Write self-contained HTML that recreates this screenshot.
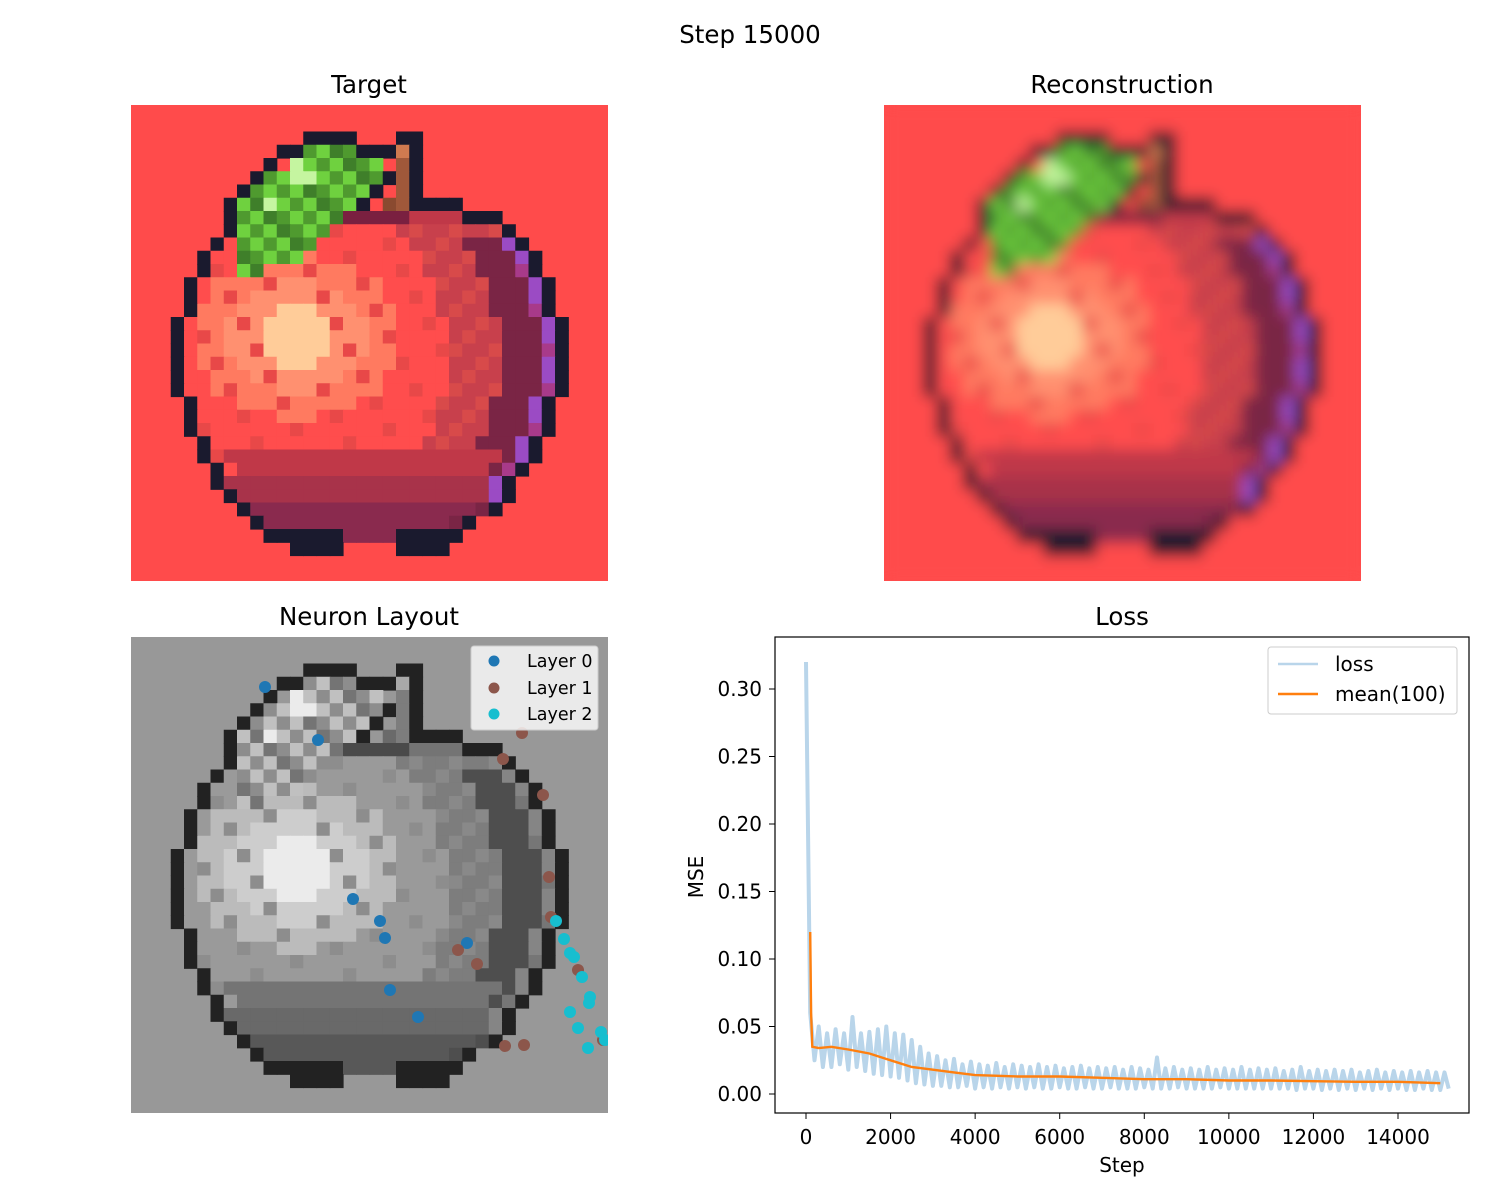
<!DOCTYPE html>
<html><head><meta charset="utf-8"><style>
html,body{margin:0;padding:0;background:#fff}
svg{display:block;font-family:"DejaVu Sans","Liberation Sans",sans-serif}
</style></head><body>
<svg id="root" width="1500" height="1200" viewBox="0 0 1500 1200" xmlns="http://www.w3.org/2000/svg">
<defs>
<filter id="blur" x="-10%" y="-10%" width="120%" height="120%"><feGaussianBlur stdDeviation="7"/></filter>
<clipPath id="clipT"><rect x="131" y="105" width="477" height="476"/></clipPath>
<clipPath id="clipR"><rect x="884" y="105" width="477" height="476"/></clipPath>
<clipPath id="clipN"><rect x="131" y="637" width="477" height="476"/></clipPath>
<clipPath id="clipL"><rect x="775" y="637" width="694" height="476"/></clipPath>
</defs>
<text x="750" y="43" font-size="24.5" text-anchor="middle">Step 15000</text>
<text x="369" y="93" font-size="24.5" text-anchor="middle">Target</text>
<text x="1122" y="93" font-size="24.5" text-anchor="middle">Reconstruction</text>
<text x="369" y="625" font-size="24.5" text-anchor="middle">Neuron Layout</text>
<text x="1122" y="625" font-size="24.5" text-anchor="middle">Loss</text>
<g id="target" clip-path="url(#clipT)"></g>
<g clip-path="url(#clipR)"><rect x="884" y="105" width="477" height="476" fill="#ff4b4b"/><g id="recon" filter="url(#blur)"></g></g>
<g id="neuron" clip-path="url(#clipN)"></g>
<g id="scatter" clip-path="url(#clipN)"></g>
<g>
<rect x="471" y="646" width="127" height="84" rx="3" fill="#fff" fill-opacity="0.8" stroke="#ccc"/>
<circle cx="494" cy="661" r="5.5" fill="#1f77b4"/><text x="527" y="667" font-size="17.5">Layer 0</text>
<circle cx="494" cy="688" r="5.5" fill="#8c564b"/><text x="527" y="694" font-size="17.5">Layer 1</text>
<circle cx="494" cy="714" r="5.5" fill="#17becf"/><text x="527" y="720" font-size="17.5">Layer 2</text>
</g>
<g id="loss"></g>
</svg>
<script>
// ---- chart data ----
const lossVals=[0.32,0.06,0.025,0.05,0.02,0.045,0.02,0.048,0.022,0.045,0.018,0.057,0.02,0.045,0.017,0.046,0.015,0.048,0.014,0.05,0.013,0.045,0.012,0.044,0.01,0.04,0.008,0.035,0.007,0.03,0.006,0.028,0.006,0.025,0.005,0.026,0.005,0.022,0.006,0.024,0.004,0.022,0.005,0.021,0.004,0.023,0.005,0.02,0.004,0.022,0.005,0.021,0.004,0.02,0.005,0.022,0.004,0.02,0.004,0.021,0.005,0.019,0.004,0.02,0.004,0.021,0.005,0.019,0.004,0.02,0.004,0.019,0.005,0.02,0.004,0.018,0.004,0.02,0.004,0.019,0.005,0.018,0.004,0.027,0.004,0.019,0.004,0.02,0.005,0.018,0.004,0.019,0.004,0.018,0.004,0.02,0.004,0.018,0.005,0.019,0.004,0.018,0.004,0.02,0.004,0.018,0.004,0.019,0.004,0.018,0.004,0.019,0.004,0.017,0.004,0.018,0.003,0.02,0.004,0.017,0.004,0.018,0.003,0.017,0.004,0.018,0.003,0.017,0.004,0.018,0.003,0.016,0.004,0.017,0.003,0.018,0.004,0.016,0.003,0.017,0.004,0.016,0.003,0.017,0.003,0.016,0.004,0.017,0.003,0.016,0.003,0.016,0.004];
const lossStepSize=100;
const meanSteps=[100,120,150,300,600,1000,1500,2000,2500,3000,3500,4000,5000,6000,7000,8000,9000,10000,11000,12000,13000,14000,15000];
const meanVals=[0.12,0.06,0.035,0.034,0.035,0.033,0.03,0.025,0.02,0.018,0.016,0.014,0.013,0.013,0.012,0.011,0.011,0.010,0.010,0.0095,0.009,0.009,0.008];
const xTicks=[0,2000,4000,6000,8000,10000,12000,14000];
const yTicks=[0.00,0.05,0.10,0.15,0.20,0.25,0.30];
const layer0=[[265,687],[318,740],[353,899],[380,921],[385,938],[467,943],[390,990],[418,1017]];
const layer1=[[522,733],[503,759],[543,795],[549,877],[551,917],[458,950],[477,964],[578,970],[505,1046],[524,1045],[603,1040]];
const layer2=[[556,921],[564,939],[570,953],[574,957],[582,977],[590,997],[589,1003],[570,1012],[578,1028],[588,1048],[601,1032],[605,1040]];

const NS="http://www.w3.org/2000/svg";
function mk(tag,attrs,parent){const e=document.createElementNS(NS,tag);for(const k in attrs)e.setAttribute(k,attrs[k]);parent.appendChild(e);return e;}

// ---- apple pixel grid ----
const BG=[255,75,75],OUT=[26,26,46];
const rows={8:[7,27],9:[7,28],10:[6,29],11:[5,30],12:[5,30],13:[4,31],14:[4,31],15:[4,31],16:[3,32],17:[3,32],18:[3,32],19:[3,32],20:[3,32],21:[3,32],22:[4,31],23:[4,31],24:[4,31],25:[5,30],26:[5,30],27:[6,29],28:[6,28],29:[7,28],30:[8,27],31:[9,25]};
const grid=[];for(let r=0;r<36;r++){grid.push([]);for(let c=0;c<36;c++)grid[r].push(BG);}
function hex(h){return [parseInt(h.slice(1,3),16),parseInt(h.slice(3,5),16),parseInt(h.slice(5,7),16)];}
for(const r in rows){const [L,R]=rows[r];const rr=+r;
 for(let c=L;c<=R;c++){let col;
  if(c===L||c===R)col=OUT;
  else{const d=Math.hypot((c-12)*1,(rr-17)*1.3);
   if(d<3)col=hex('#ffcc99');else if(d<5.5)col=hex('#ff9070');else if(d<8)col=hex('#ff7a60');
   else col=hex('#ff4d4d');
   if((c+rr*3)%7===0&&d>=3)col=hex('#e84848');
   if(c>=R-1&&rr>=10&&rr<=29)col=hex(rr%3?'#9b4bc4':'#a83a8a');
   else if(c>=R-4&&rr>=10)col=hex('#7a2545');
   else if(c>=R-8)col=hex((c+rr)%3?'#c8404c':'#d84a4a');
   if(rr>=28&&c>L&&c<R-1)col=hex(rr>=30?'#8a2a4e':'#a8334a');
   if(rr>=26&&rr<28&&c>L+1&&c<R-2)col=hex('#c03848');
  }
  grid[rr][c]=col;}}
for(let c=21;c<=24;c++)grid[7][c]=OUT;
for(let c=25;c<=27;c++)grid[8][c]=OUT;
for(let c=10;c<=15;c++)grid[32][c]=OUT;for(let c=20;c<=24;c++)grid[32][c]=OUT;
for(let c=16;c<=19;c++)grid[32][c]=hex('#8a2a4e');
for(let c=12;c<=15;c++)grid[33][c]=OUT;for(let c=20;c<=23;c++)grid[33][c]=OUT;
for(let c=16;c<=20;c++)grid[8][c]=hex('#7a2040');
for(let c=21;c<=24;c++)grid[8][c]=hex('#c03848');
const leaf={3:[13,16],4:[12,18],5:[10,18],6:[9,17],7:[8,16],8:[8,15],9:[8,14],10:[8,13],11:[8,12],12:[8,9]};
for(const r in leaf){const [a,b]=leaf[r];for(let c=a;c<=b;c++){const k=(c*7+(+r)*3)%5;grid[+r][c]=hex(k<2?'#4f9a2f':k<4?'#6fd13f':'#3f7f2a');}}
grid[4][12]=hex('#c5f5a0');grid[5][12]=hex('#c5f5a0');grid[5][13]=hex('#c5f5a0');grid[7][10]=hex('#c5f5a0');
for(let c=13;c<=16;c++)grid[2][c]=OUT;grid[3][11]=OUT;grid[3][12]=OUT;for(let c=17;c<=19;c++)grid[3][c]=OUT;
grid[4][10]=OUT;grid[5][9]=OUT;grid[6][8]=OUT;grid[7][7]=OUT;grid[8][7]=OUT;grid[5][19]=OUT;grid[6][18]=OUT;grid[7][17]=OUT;
grid[2][20]=OUT;grid[2][21]=OUT;for(let r=3;r<=6;r++){grid[r][21]=OUT;}grid[3][20]=hex('#d07a50');
for(let r=4;r<=7;r++)grid[r][20]=hex('#a0583a');grid[7][19]=hex('#8a4a30');

function drawGrid(g,x0,y0,mapFn){const s=477/36;
 mk('rect',{x:x0,y:y0,width:477,height:477,fill:mapFn(BG)},g);
 for(let r=0;r<36;r++)for(let c=0;c<36;c++){const v=grid[r][c];if(v===BG)continue;
  mk('rect',{x:(x0+c*s).toFixed(2),y:(y0+r*s).toFixed(2),width:(s+0.6).toFixed(2),height:(s+0.6).toFixed(2),fill:mapFn(v)},g);}}
const rgb=v=>`rgb(${v[0]},${v[1]},${v[2]})`;
const gray=v=>{let l=Math.min(235,Math.round((0.299*v[0]+0.587*v[1]+0.114*v[2])*1.18));if(v===OUT)l=34;return `rgb(${l},${l},${l})`;};
drawGrid(document.getElementById('target'),131,105,rgb);
drawGrid(document.getElementById('recon'),884,105,rgb);
drawGrid(document.getElementById('neuron'),131,637,gray);

const sc=document.getElementById('scatter');
[[layer0,'#1f77b4','layer-0-point'],[layer1,'#8c564b','layer-1-point'],[layer2,'#17becf','layer-2-point']].forEach(([arr,col,nm])=>{
 arr.forEach(p=>{const c=mk('circle',{cx:p[0],cy:p[1],r:6,fill:col},sc);
  
  });});

// ---- loss chart ----
const L=document.getElementById('loss');
const X=v=>806+v*(1398-806)/14000;
const Y=v=>1094-v*(1094-689)/0.30;
const plot=mk('g',{'clip-path':'url(#clipL)'},L);
let pts=lossVals.map((v,i)=>X(i*lossStepSize).toFixed(1)+','+Y(v).toFixed(1)).join(' ');
const ll=mk('polyline',{points:pts,fill:'none',stroke:'#b9d5ea','stroke-width':4,'stroke-linejoin':'round'},plot);


pts=meanSteps.map((s,i)=>X(s).toFixed(1)+','+Y(meanVals[i]).toFixed(1)).join(' ');
const ml=mk('polyline',{points:pts,fill:'none',stroke:'#ff7f0e','stroke-width':2.4},plot);


const ax=mk('rect',{x:775,y:637,width:694,height:476,fill:'none',stroke:'#000','stroke-width':1.2},L);


xTicks.forEach(t=>{mk('line',{x1:X(t),x2:X(t),y1:1113,y2:1119,stroke:'#000'},L);
 const tx=mk('text',{x:X(t),y:1144,'font-size':20,'text-anchor':'middle'},L);tx.textContent=t;
 
 });
yTicks.forEach(t=>{mk('line',{x1:769,x2:775,y1:Y(t),y2:Y(t),stroke:'#000'},L);
 const tx=mk('text',{x:762,y:Y(t)+7,'font-size':20,'text-anchor':'end'},L);tx.textContent=t.toFixed(2);
 
 });
const xl=mk('text',{x:1122,y:1172,'font-size':20,'text-anchor':'middle'},L);xl.textContent='Step';


const yl=mk('text',{x:703,y:877,'font-size':20,'text-anchor':'middle',transform:'rotate(-90 703 877)'},L);yl.textContent='MSE';


const lg=mk('g',{},L);


mk('rect',{x:1268,y:647,width:189,height:67,rx:3,fill:'#fff','fill-opacity':0.8,stroke:'#ccc'},lg);
mk('line',{x1:1278,x2:1318,y1:664,y2:664,stroke:'#b9d5ea','stroke-width':2.4},lg);
mk('line',{x1:1278,x2:1318,y1:694,y2:694,stroke:'#ff7f0e','stroke-width':2.4},lg);
const t1=mk('text',{x:1335,y:671,'font-size':20},lg);t1.textContent='loss';
const t2=mk('text',{x:1335,y:701,'font-size':20},lg);t2.textContent='mean(100)';
</script>
</body></html>
